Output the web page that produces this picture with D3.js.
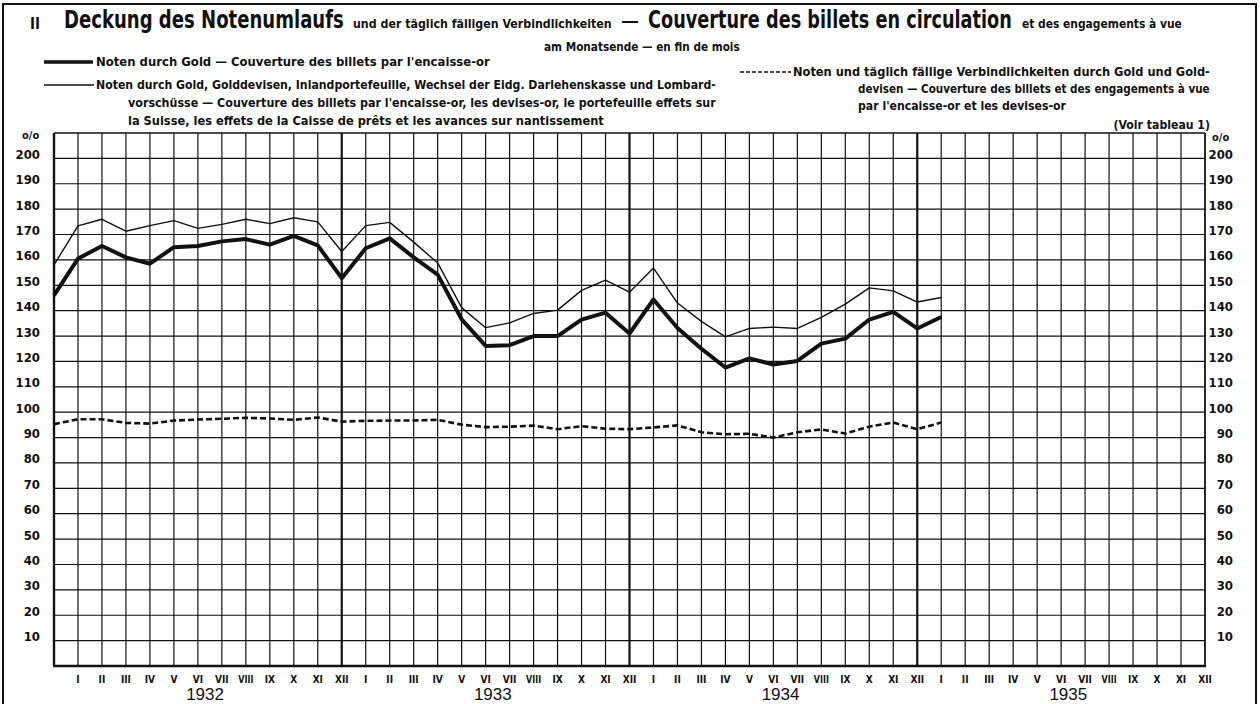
<!DOCTYPE html>
<html><head><meta charset="utf-8">
<script src="https://cdn.jsdelivr.net/npm/d3@7"></script>
<style>
body{margin:0;background:#fff}
svg{display:block}
text{font-family:"Liberation Sans Narrow","DejaVu Sans Condensed","Roboto Condensed","Liberation Sans",sans-serif;fill:#111}
</style>
</head><body>
<svg id="c" width="1260" height="704"></svg>
<script>
// ---- data (month-end values, Dec 1931 .. Jan 1935) ----
const monthLabels = ["I","II","III","IV","V","VI","VII","VIII","IX","X","XI","XII"];
const years = [1932, 1933, 1934, 1935];
const yTicks = [10,20,30,40,50,60,70,80,90,100,110,120,130,140,150,160,170,180,190,200];
// index -1 = Dec 1931, 0 = Jan 1932, ... 36 = Jan 1935
const startIndex = -1;
const goldCover = [146,
  160.5,165.5,161,158.5,165,165.5,167.3,168.2,166,169.5,165.7,152.8,
  164.6,168.5,161,154.2,136.6,126.1,126.4,130,130,136.5,139.2,131,
  144.4,133.2,125,117.6,121.2,118.8,120.2,127,129,136.5,139.5,133,
  137.5];
const broadCover = [158,
  173.4,176,171.3,173.5,175.5,172.4,174,176,174.3,176.6,175,163.3,
  173.5,174.8,167,158.8,141.2,133.3,135.2,138.9,140.2,148,152,147.3,
  156.8,143,135.8,129.7,133,133.5,133,137.4,142.6,149,147.8,143.4,
  145.2];
const sightCover = [95.3,
  97.2,97.2,95.8,95.5,96.7,97.1,97.4,97.8,97.5,97.0,97.9,96.3,
  96.6,96.7,96.7,97.0,95.1,94.1,94.3,94.7,93.3,94.5,93.5,93.3,
  94.0,94.8,92.1,91.3,91.5,90.0,92.1,93.2,91.6,94.3,95.9,93.3,
  95.9];

// ---- layout ----
const svg = d3.select("#c");
const x = d3.scaleLinear().domain([-1, 47]).range([54, 1205]);
const y = d3.scaleLinear().domain([0, 210]).range([666, 133]);
const ink = "#111";

// outer frame
svg.append("path").attr("d","M3,704 V4 H1256 V704").attr("fill","none").attr("stroke",ink).attr("stroke-width",2);

// grid: horizontal
const g = svg.append("g");
g.selectAll("line.h").data(yTicks).join("line")
  .attr("x1", x(-1)).attr("x2", x(47))
  .attr("y1", d => y(d)).attr("y2", d => y(d))
  .attr("stroke", ink).attr("stroke-width", 1.2);
// grid: vertical month lines
const monthIdx = d3.range(0, 47);
g.selectAll("line.v").data(monthIdx).join("line")
  .attr("x1", d => x(d)).attr("x2", d => x(d))
  .attr("y1", y(210)).attr("y2", y(0))
  .attr("stroke", ink).attr("stroke-width", d => (d % 12 === 11) ? 2.2 : 1.2);
// frame of plot
g.append("line").attr("x1", x(-1)).attr("x2", x(47)).attr("y1", y(210)).attr("y2", y(210)).attr("stroke", ink).attr("stroke-width", 1.6);
g.append("line").attr("x1", x(47)).attr("x2", x(47)).attr("y1", y(210)).attr("y2", y(0)).attr("stroke", ink).attr("stroke-width", 1.8);
g.append("line").attr("x1", x(-1)).attr("x2", x(-1)).attr("y1", y(210)).attr("y2", y(0)).attr("stroke", ink).attr("stroke-width", 2.4);
g.append("line").attr("x1", x(-1)-1).attr("x2", x(47)+1).attr("y1", y(0)).attr("y2", y(0)).attr("stroke", ink).attr("stroke-width", 2.6);

// y labels
const lab = svg.append("g").attr("font-weight", "bold").attr("font-size", 13);
lab.selectAll("text.l").data(yTicks).join("text")
  .attr("x", 40).attr("y", d => y(d) + 0.5).attr("text-anchor", "end").text(d => d);
lab.selectAll("text.r").data(yTicks).join("text")
  .attr("x", 1233).attr("y", d => y(d) + 0.5).attr("text-anchor", "end").text(d => d);
svg.append("text").attr("x", 22).attr("y", 139).attr("font-size", 11).attr("font-weight","bold").text("o/o");
svg.append("text").attr("x", 1212).attr("y", 141).attr("font-size", 11).attr("font-weight","bold").text("o/o");

// helper: squeeze a text horizontally with a transform
function squeezeTo(sel, xx, yy, sx) {
  sel.attr("x", 0).attr("y", 0).attr("transform", `translate(${xx},${yy}) scale(${sx},1)`);
  return sel;
}

// x labels
const monthsAll = [];
years.forEach((yr, yi) => monthLabels.forEach((m, mi) => monthsAll.push({i: yi*12+mi, m})));
svg.append("g").attr("font-size", 10).attr("font-weight", "bold")
  .selectAll("text").data(monthsAll).join("text")
  .attr("text-anchor", "middle").text(d => d.m)
  .each(function(d) {
    const w = this.getComputedTextLength();
    squeezeTo(d3.select(this), x(d.i), 682.5, w > 15 ? 15 / w : 1);
  });
svg.append("g").attr("font-size", 17)
  .selectAll("text").data(years).join("text")
  .attr("x", (d, i) => x(i*12 + 5.3)).attr("y", 699.5).attr("text-anchor", "middle")
  .style("font-family", "'Liberation Sans','DejaVu Sans',sans-serif").text(d => d);

// series
const line = d3.line().x((d, i) => x(startIndex + i)).y(d => y(d)).curve(d3.curveLinear);
svg.append("path").datum(broadCover).attr("d", line).attr("fill","none").attr("stroke", ink).attr("stroke-width", 1.4).attr("stroke-linejoin","round");
svg.append("path").datum(goldCover).attr("d", line).attr("fill","none").attr("stroke", ink).attr("stroke-width", 4).attr("stroke-linejoin","round");
svg.append("path").datum(sightCover).attr("d", line).attr("fill","none").attr("stroke", ink).attr("stroke-width", 2.6).attr("stroke-dasharray","6,3");

// ---- texts ----
function t(str, x0, yy, size, weight, x1, sx) {
  const e = svg.append("text").attr("font-size", size).attr("font-weight", weight).text(str);
  const w = e.node().getComputedTextLength();
  let s = 1;
  if (x1 != null) s = (x1 - x0) / w;
  else if (sx != null) s = sx;
  squeezeTo(e, x0, yy, s);
  return s;
}
function tRight(str, xr, yy, size, weight, sx) {
  const e = svg.append("text").attr("font-size", size).attr("font-weight", weight).text(str);
  const w = e.node().getComputedTextLength();
  squeezeTo(e, xr - w * sx, yy, sx);
}

t("II", 30, 29, 15, "bold");
t("Deckung des Notenumlaufs", 64, 28, 24, "bold", 344);
t("und der täglich fälligen Verbindlichkeiten", 353, 28, 11.5, "bold", 612);
t("—", 621, 26, 16, "bold", 639);
t("Couverture des billets en circulation", 648, 28, 24, "bold", 1012);
t("et des engagements à vue", 1022, 28, 11.5, "bold", 1182);
t("am Monatsende — en fin de mois", 544, 51, 11.5, "bold", 740);

// legend (left)
svg.append("line").attr("x1", 44).attr("x2", 93).attr("y1", 62).attr("y2", 62).attr("stroke", ink).attr("stroke-width", 3.5);
svg.append("line").attr("x1", 44).attr("x2", 94).attr("y1", 85).attr("y2", 85).attr("stroke", ink).attr("stroke-width", 1.3);
const sLeg = t("Noten durch Gold, Golddevisen, Inlandportefeuille, Wechsel der Eidg. Darlehenskasse und Lombard-", 96, 89, 11.5, "bold", 716);
t("Noten durch Gold — Couverture des billets par l'encaisse-or", 96, 66, 11.5, "bold", 490);
t("vorschüsse — Couverture des billets par l'encaisse-or, les devises-or, le portefeuille effets sur", 128, 107, 11.5, "bold", 716);
t("la Suisse, les effets de la Caisse de prêts et les avances sur nantissement", 128, 125, 11.5, "bold", 604);

// legend (right)
svg.append("line").attr("x1", 740).attr("x2", 791).attr("y1", 72).attr("y2", 72).attr("stroke", ink).attr("stroke-width", 1.3).attr("stroke-dasharray", "4,2");
t("Noten und täglich fällige Verbindlichkeiten durch Gold und Gold-", 793, 76, 11.5, "bold", 1210);
t("devisen — Couverture des billets et des engagements à vue", 858, 93, 11.5, "bold", 1210);
t("par l'encaisse-or et les devises-or", 858, 110, 11.5, "bold", null, sLeg);
tRight("(Voir tableau 1)", 1210, 129, 11.5, "bold", sLeg);
</script>
</body></html>
